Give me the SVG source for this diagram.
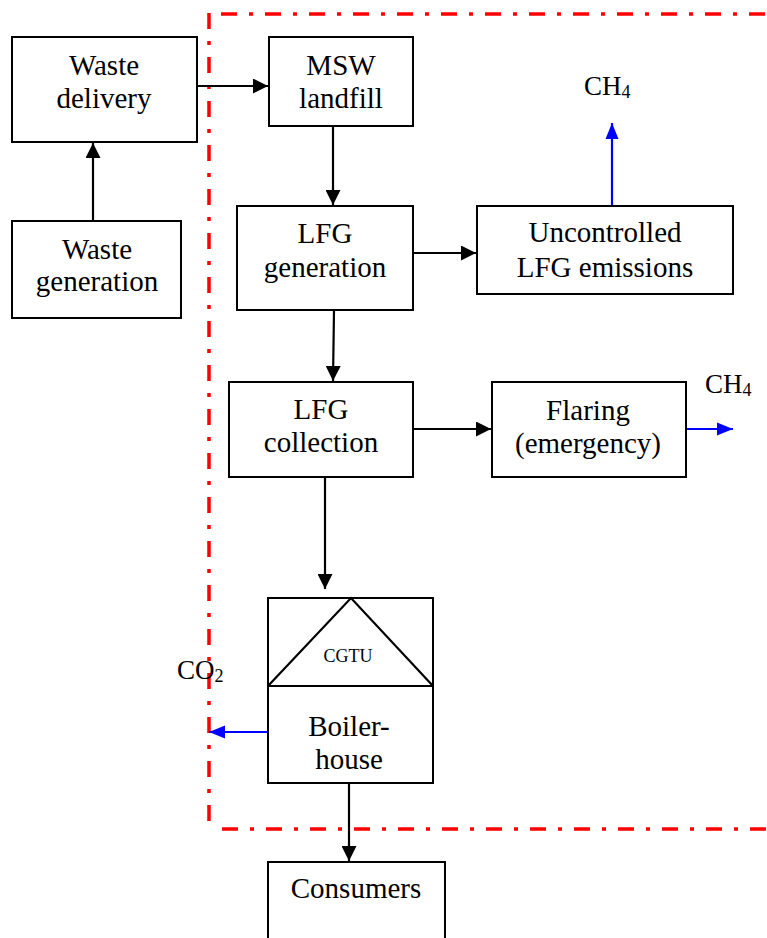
<svg xmlns="http://www.w3.org/2000/svg" width="767" height="938" viewBox="0 0 767 938">
<style>
.box{fill:#fff;stroke:#000;stroke-width:2}
.t{font-family:"Liberation Serif","Times New Roman",serif;font-size:29px;fill:#000;text-anchor:middle}
.s{font-family:"Liberation Serif","Times New Roman",serif;font-size:27px;fill:#000}
.c{stroke:#000;stroke-width:2.2;fill:none}
.b{stroke:#0000ff;stroke-width:2.2;fill:none}
.red{stroke:#ff0000;stroke-width:3.5;fill:none;stroke-dasharray:16 12 4 12}
</style>
<defs>
<marker id="ak" markerUnits="userSpaceOnUse" markerWidth="16" markerHeight="15" refX="15" refY="7.5" orient="auto"><path d="M0,0 L15,7.5 L0,15 Z" fill="#000"/></marker>
<marker id="ab" markerUnits="userSpaceOnUse" markerWidth="17" markerHeight="15" refX="16" refY="7.5" orient="auto"><path d="M0,1 L16,7.5 L0,14 Z" fill="#0000ff"/></marker>
</defs>
<g id="boundary">
<line class="red" x1="221" y1="14" x2="767" y2="14"/>
<line class="red" x1="209" y1="13" x2="209" y2="829"/>
<line class="red" x1="222" y1="829" x2="767" y2="829"/>
</g>
<g id="connectors">
<line class="c" x1="93" y1="221" x2="93" y2="143" marker-end="url(#ak)"/>
<line class="c" x1="197" y1="86" x2="268" y2="86" marker-end="url(#ak)"/>
<line class="c" x1="333" y1="126" x2="333" y2="205" marker-end="url(#ak)"/>
<line class="c" x1="413" y1="253" x2="476" y2="253" marker-end="url(#ak)"/>
<line class="c" x1="334" y1="310" x2="333" y2="381" marker-end="url(#ak)"/>
<line class="c" x1="413" y1="429" x2="491" y2="429" marker-end="url(#ak)"/>
<line class="c" x1="325" y1="477" x2="325" y2="589" marker-end="url(#ak)"/>
<line class="c" x1="349" y1="783" x2="349" y2="861" marker-end="url(#ak)"/>
<line class="b" x1="612" y1="206" x2="612" y2="123" marker-end="url(#ab)"/>
<line class="b" x1="686" y1="429" x2="733" y2="429" marker-end="url(#ab)"/>
<line class="b" x1="268" y1="732" x2="209" y2="732" marker-end="url(#ab)"/>
</g>
<g id="waste-delivery">
<rect class="box" x="12" y="37" width="185" height="105"/>
<text class="t" x="104" y="75">Waste</text>
<text class="t" x="104" y="108">delivery</text>
</g>
<g id="waste-generation">
<rect class="box" x="12" y="221" width="169" height="97"/>
<text class="t" x="97" y="259">Waste</text>
<text class="t" x="97" y="291">generation</text>
</g>
<g id="msw-landfill">
<rect class="box" x="269" y="37" width="144" height="89"/>
<text class="t" x="341" y="75">MSW</text>
<text class="t" x="341" y="108">landfill</text>
</g>
<g id="lfg-generation">
<rect class="box" x="237" y="206" width="176" height="104"/>
<text class="t" x="325" y="243">LFG</text>
<text class="t" x="325" y="277">generation</text>
</g>
<g id="uncontrolled">
<rect class="box" x="477" y="206" width="256" height="88"/>
<text class="t" x="605" y="242">Uncontrolled</text>
<text class="t" x="605" y="277">LFG emissions</text>
</g>
<g id="ch4-top">
<text class="s" x="584" y="95">CH<tspan font-size="18" dy="3">4</tspan></text>
</g>
<g id="lfg-collection">
<rect class="box" x="229" y="382" width="184" height="95"/>
<text class="t" x="321" y="419">LFG</text>
<text class="t" x="321" y="452">collection</text>
</g>
<g id="flaring">
<rect class="box" x="492" y="382" width="194" height="95"/>
<text class="t" x="588" y="420">Flaring</text>
<text class="t" x="588" y="453">(emergency)</text>
</g>
<g id="ch4-right">
<text class="s" x="705" y="393">CH<tspan font-size="18" dy="3">4</tspan></text>
</g>
<g id="cgtu-boiler">
<rect class="box" x="268" y="598" width="165" height="185"/>
<line class="c" x1="268" y1="686" x2="433" y2="686"/>
<polyline class="c" points="268,686 351,598 433,686"/>
<text class="t" x="348" y="662" style="font-size:18px">CGTU</text>
<text class="t" x="349" y="736">Boiler-</text>
<text class="t" x="349" y="769">house</text>
</g>
<g id="co2">
<text class="s" x="177" y="679">CO<tspan font-size="18" dy="3">2</tspan></text>
</g>
<g id="consumers">
<rect class="box" x="268" y="862" width="177" height="90"/>
<text class="t" x="356" y="898">Consumers</text>
</g>
</svg>
